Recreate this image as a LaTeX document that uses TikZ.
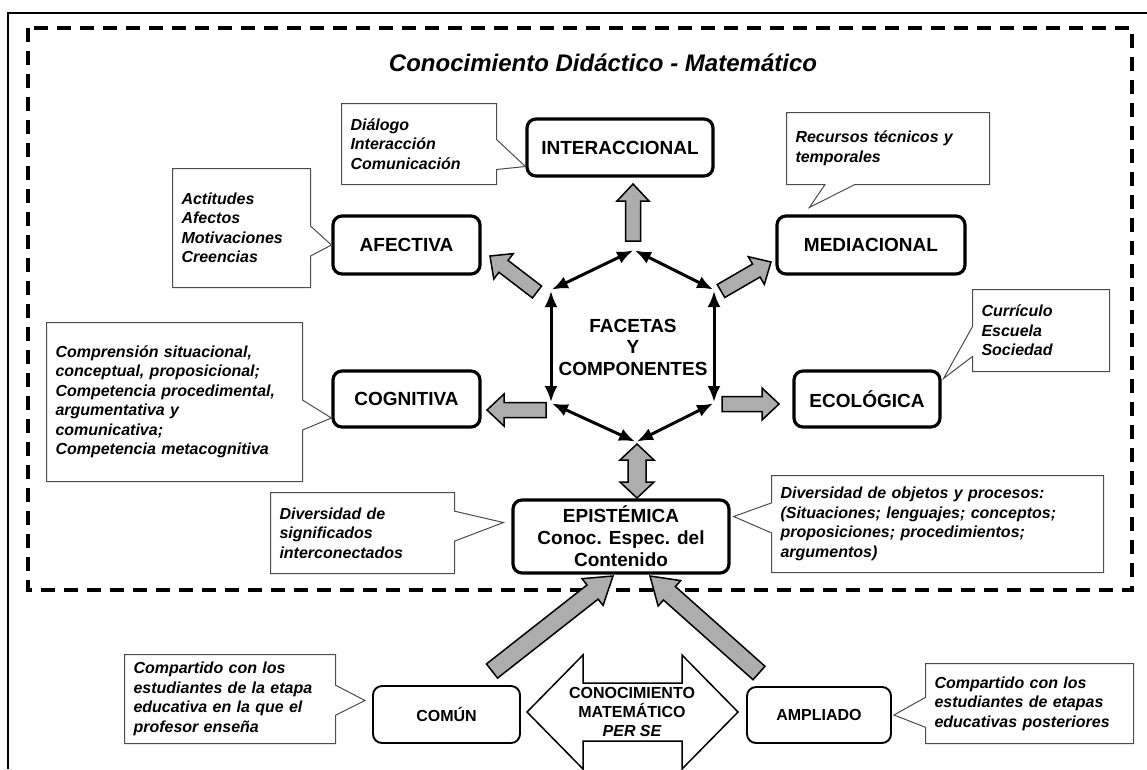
\documentclass[tikz,border=0pt]{standalone}
\usepackage{fontspec}
\setmainfont{Liberation Sans}
\usetikzlibrary{arrows.meta,calc,shapes.callouts}
\newcommand{\grarr}[5]{%
  \coordinate (grH) at ($(#2)!#5!(#1)$);
  \draw[grarrow] ($(#1)!#3!90:(#2)$) -- ($(grH)!#3!90:(#2)$) -- ($(grH)!#4!90:(#2)$) -- (#2)
    -- ($(grH)!#4!-90:(#2)$) -- ($(grH)!#3!-90:(#2)$) -- ($(#1)!#3!-90:(#2)$) -- cycle;}
\newcommand{\grdarr}[5]{%
  \coordinate (grHa) at ($(#1)!#5!(#2)$);
  \coordinate (grHb) at ($(#2)!#5!(#1)$);
  \draw[grarrow] (#1) -- ($(grHa)!#4!90:(#2)$) -- ($(grHa)!#3!90:(#2)$) -- ($(grHb)!#3!90:(#2)$)
    -- ($(grHb)!#4!90:(#2)$) -- (#2) -- ($(grHb)!#4!-90:(#2)$) -- ($(grHb)!#3!-90:(#2)$)
    -- ($(grHa)!#3!-90:(#2)$) -- ($(grHa)!#4!-90:(#2)$) -- cycle;}
\tikzset{
  facet/.style={draw, line width=3.2pt, rounded corners=9pt, inner sep=0pt,
    font=\fontsize{19}{23}\selectfont\bfseries, align=center},
  facetthin/.style={facet, line width=1.9pt, font=\fontsize{16}{19}\selectfont\bfseries},
  note/.style={rectangle callout, draw=black!70, line width=1pt, fill=white,
    callout pointer width=30pt, anchor=north west, inner xsep=9pt, inner ysep=0pt,
    align=left, font=\fontsize{16}{19.5}\selectfont\bfseries\itshape},
  grarrow/.style={draw=black, line width=1.5pt, fill=black!32, line join=miter},
  hexarr/.style={line width=3pt, {Latex[length=16pt,width=13pt]}-{Latex[length=16pt,width=13pt]},
    shorten <=1pt, shorten >=1pt},
}
\begin{document}
\begin{tikzpicture}[x=1pt,y=-1pt]
\useasboundingbox (0,0) rectangle (1147,769);
% frames
\draw[line width=2.4pt] (8,769) -- (8,13) -- (1147,13);
\draw[line width=3.3pt, dash pattern=on 14pt off 9pt] (28,28) rectangle (1132,590);
\node[font=\fontsize{24}{28}\selectfont\bfseries\itshape, anchor=base] (title) at (603,71)
  {Conocimiento Didáctico - Matemático};
% facet boxes
\node[facet, minimum width=186pt, minimum height=57pt] (inter) at (620,147.5) {INTERACCIONAL};
\node[facet, minimum width=147pt, minimum height=58pt] (afect) at (406.5,245) {AFECTIVA};
\node[facet, minimum width=188pt, minimum height=58pt] (medi) at (871,245) {MEDIACIONAL};
\node[facet, minimum width=147pt, minimum height=56pt] (cogn) at (406.5,399) {COGNITIVA};
\node[facet, minimum width=146pt, minimum height=56pt] (ecol) at (867,399) {ECOLÓGICA};
\node[facet, minimum width=216pt, minimum height=73pt, font=\fontsize{19}{22}\selectfont\bfseries] (epis) at (621,536.5)
  {EPISTÉMICA\\Conoc. Espec. del\\Contenido};
\node[facetthin, minimum width=147pt, minimum height=57pt] (comun) at (446.5,714.5) {COMÚN};
\node[facetthin, minimum width=144pt, minimum height=56pt] (ampl) at (819,715) {AMPLIADO};
% hexagon
\coordinate (hT) at (634,250);
\coordinate (hUL) at (551,290);
\coordinate (hUR) at (714,290);
\coordinate (hLL) at (551,403);
\coordinate (hLR) at (714,403);
\coordinate (hB) at (636,442);
\draw[hexarr] (hT) -- (hUL);
\draw[hexarr] (hT) -- (hUR);
\draw[hexarr] (hUL) -- (hLL);
\draw[hexarr] (hUR) -- (hLR);
\draw[hexarr] (hLL) -- (hB);
\draw[hexarr] (hLR) -- (hB);
\node[font=\fontsize{19}{21.5}\selectfont\bfseries, align=center] (hex) at (633,347)
  {FACETAS\\Y\\COMPONENTES};
% gray arrows
\coordinate (gi1) at (633,241); \coordinate (gi2) at (633,184);
\coordinate (ga1) at (537,292); \coordinate (ga2) at (490,256);
\coordinate (gm1) at (721,291); \coordinate (gm2) at (771,262);
\coordinate (gc1) at (546,410); \coordinate (gc2) at (487,410);
\coordinate (ge1) at (722,404); \coordinate (ge2) at (779,404);
\coordinate (gd1) at (637,444); \coordinate (gd2) at (637,498);
\coordinate (gb1) at (492,671); \coordinate (gb2) at (613,576);
\coordinate (gb3) at (759,673); \coordinate (gb4) at (650,576);
\grarr{gi1}{gi2}{7.5pt}{16pt}{17pt}
\grarr{ga1}{ga2}{7.5pt}{16pt}{17pt}
\grarr{gm1}{gm2}{7.5pt}{16pt}{17pt}
\grarr{gc1}{gc2}{7.5pt}{16pt}{17pt}
\grarr{ge1}{ge2}{7.5pt}{16pt}{17pt}
\grdarr{gd1}{gd2}{9pt}{17pt}{16pt}
\grarr{gb1}{gb2}{9pt}{17pt}{26pt}
\grarr{gb3}{gb4}{9pt}{17pt}{26pt}
% big double arrow
\coordinate (perc) at (632,712);
\draw[line width=1.5pt, line join=miter, shift={(perc)}]
  (-105,0) -- (-49,-57) -- (-49,-29) -- (50,-29) -- (50,-57) -- (106,0)
  -- (50,57) -- (50,29) -- (-49,29) -- (-49,57) -- cycle;
\node[font=\fontsize{16}{19}\selectfont\bfseries, align=center] (per) at (perc)
  {CONOCIMIENTO\\MATEMÁTICO\\\itshape PER SE};
% notes
\node[note, text width=137pt, minimum height=81pt,
  callout absolute pointer={($(inter.west)+(0,19)$)}] (dlg) at (341,103)
  {Diálogo\\Interacción\\Comunicación};
\node[note, text width=120pt, minimum height=119pt,
  callout absolute pointer={(afect.west)}] (act) at (172,168)
  {Actitudes\\Afectos\\Motivaciones\\Creencias};
\node[note, text width=238pt, minimum height=159pt,
  callout absolute pointer={($(cogn.west)+(0,19)$)}] (cog) at (46,322)
  {Comprensión situacional,\\conceptual, proposicional;\\Competencia procedimental,\\argumentativa y\\comunicativa;\\Competencia metacognitiva};
\node[note, text width=185pt, minimum height=72pt,
  callout absolute pointer={($(medi.north west)+(34,-7)$)}] (rec) at (786,112)
  {Recursos técnicos y\\temporales};
\node[note, text width=119pt, minimum height=82pt,
  callout absolute pointer={($(ecol.north east)+(2,9)$)}] (cur) at (972,289)
  {Currículo\\Escuela\\Sociedad};
\node[note, text width=166pt, minimum height=81pt,
  callout absolute pointer={($(epis.west)+(-8,-14)$)}] (dsig) at (270,492)
  {Diversidad de\\significados\\interconectados};
\node[note, text width=314pt, minimum height=97pt,
  callout absolute pointer={($(epis.east)+(3,-20)$)}] (dobj) at (771,475)
  {Diversidad de objetos y procesos:\\(Situaciones; lenguajes; conceptos;\\proposiciones; procedimientos;\\argumentos)};
\node[note, text width=193pt, minimum height=89pt,
  callout absolute pointer={($(comun.west)+(-7,-14)$)}] (cnote) at (124,654)
  {Compartido con los\\estudiantes de la etapa\\educativa en la que el\\profesor enseña};
\node[note, text width=190pt, minimum height=80pt,
  callout absolute pointer={($(ampl.east)+(2,0)$)}] (anote) at (925,663)
  {Compartido con los\\estudiantes de etapas\\educativas posteriores};
\end{tikzpicture}
\end{document}
